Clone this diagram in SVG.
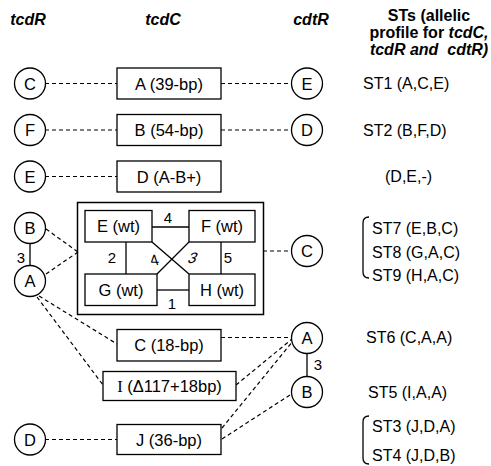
<svg xmlns="http://www.w3.org/2000/svg" width="491" height="466" viewBox="0 0 491 466">
<style>
.bx{fill:#fff;stroke:#000;stroke-width:1.3}
.ci{fill:#fff;stroke:#000;stroke-width:1.3}
.t{font-family:"Liberation Sans",Arial,sans-serif;font-size:16.5px;fill:#000;text-anchor:middle}
.st{font-family:"Liberation Sans",Arial,sans-serif;font-size:16px;fill:#000}
.h{font-family:"Liberation Sans",Arial,sans-serif;font-size:16px;font-weight:bold;fill:#000;text-anchor:middle}
.n{font-family:"Liberation Sans",Arial,sans-serif;font-size:15px;fill:#000;text-anchor:middle}
.d{stroke:#000;stroke-width:1.2;stroke-dasharray:4 3;fill:none}
.s{stroke:#000;stroke-width:1.3;fill:none}
</style>
<rect width="491" height="466" fill="#fff"/>
<g id="headers">
<text class="h" x="28" y="25" font-style="italic">tcdR</text>
<text class="h" x="163" y="25" font-style="italic">tcdC</text>
<text class="h" x="311" y="25" font-style="italic">cdtR</text>
<text class="h" x="429" y="21">STs (allelic</text>
<text class="h" x="429" y="38">profile for <tspan font-style="italic">tcdC,</tspan></text>
<text class="h" x="429" y="55" font-style="italic">tcdR and&#160; cdtR)</text>
</g>
<g id="connectors">
<line class="d" x1="45" y1="83.5" x2="117" y2="83.5"/>
<line class="d" x1="221" y1="83.5" x2="292" y2="83.5"/>
<line class="d" x1="45" y1="130" x2="117" y2="130"/>
<line class="d" x1="221" y1="130" x2="292" y2="130"/>
<line class="d" x1="45" y1="176.5" x2="117" y2="176.5"/>
<line class="d" x1="46" y1="229" x2="78" y2="252"/>
<line class="d" x1="46" y1="274" x2="78" y2="252"/>
<line class="d" x1="263" y1="251" x2="292" y2="251"/>
<line class="s" x1="30" y1="243" x2="30" y2="266"/>
<line class="d" x1="39" y1="296" x2="117" y2="344"/>
<line class="d" x1="37" y1="297" x2="103" y2="385"/>
<line class="d" x1="221" y1="337.5" x2="292" y2="337.5"/>
<line class="d" x1="236" y1="385" x2="292" y2="339"/>
<line class="d" x1="222" y1="428" x2="293" y2="341"/>
<line class="d" x1="222" y1="439" x2="293" y2="393"/>
<line class="s" x1="307" y1="353" x2="307" y2="377"/>
<line class="d" x1="45" y1="439.5" x2="117" y2="439.5"/>
<line class="s" x1="152" y1="227" x2="189" y2="227"/>
<line class="s" x1="126" y1="242" x2="126" y2="274"/>
<line class="s" x1="221" y1="242" x2="221" y2="274"/>
<line class="s" x1="157" y1="290" x2="189" y2="290"/>
<line class="s" x1="152" y1="242" x2="189" y2="274"/>
<line class="s" x1="189" y1="242" x2="157" y2="274"/>
</g>
<g id="edge-labels">
<text class="n" x="21" y="263">3</text>
<text class="n" x="168" y="223">4</text>
<text class="n" x="112" y="263">2</text>
<text class="n" x="228" y="263">5</text>
<text class="n" x="172" y="309">1</text>
<text class="n" transform="translate(156,265) skewX(18)">4</text>
<text class="n" transform="translate(191,263) skewX(-22)">3</text>
<text class="n" x="318" y="370">3</text>
</g>
<g id="tcdR-C"><circle class="ci" cx="30" cy="83.5" r="15.5"/><text class="t" x="30" y="89.5">C</text></g>
<g id="tcdR-F"><circle class="ci" cx="30" cy="130" r="15.5"/><text class="t" x="30" y="136">F</text></g>
<g id="tcdR-E"><circle class="ci" cx="30" cy="176.5" r="15.5"/><text class="t" x="30" y="182.5">E</text></g>
<g id="tcdR-B"><circle class="ci" cx="30" cy="228" r="15.5"/><text class="t" x="30" y="234">B</text></g>
<g id="tcdR-A"><circle class="ci" cx="30" cy="281" r="15.5"/><text class="t" x="30" y="287">A</text></g>
<g id="tcdR-D"><circle class="ci" cx="30" cy="439.5" r="15.5"/><text class="t" x="30" y="445.5">D</text></g>
<g id="tcdC-A"><rect class="bx" x="117" y="68" width="104" height="31"/><text class="t" x="169" y="89.5">A (39-bp)</text></g>
<g id="tcdC-B"><rect class="bx" x="117" y="114.5" width="104" height="31"/><text class="t" x="169" y="136">B (54-bp)</text></g>
<g id="tcdC-D"><rect class="bx" x="117" y="161" width="104" height="31"/><text class="t" x="169" y="182.5">D (A-B+)</text></g>
<g id="tcdC-wt-group">
<rect x="77.5" y="202.5" width="186" height="112" fill="none" stroke="#000" stroke-width="1.5"/>
<g id="tcdC-E"><rect class="bx" x="85" y="210.5" width="67" height="31.5"/><text class="t" x="118.5" y="232">E (wt)</text></g>
<g id="tcdC-F"><rect class="bx" x="189" y="210.5" width="66" height="31.5"/><text class="t" x="222" y="232">F (wt)</text></g>
<g id="tcdC-G"><rect class="bx" x="85" y="274" width="72" height="31.5"/><text class="t" x="121" y="295.5">G (wt)</text></g>
<g id="tcdC-H"><rect class="bx" x="189" y="274" width="66" height="31.5"/><text class="t" x="222" y="295.5">H (wt)</text></g>
</g>
<g id="cdtR-E"><circle class="ci" cx="307" cy="83.5" r="15.5"/><text class="t" x="307" y="89.5">E</text></g>
<g id="cdtR-D"><circle class="ci" cx="307" cy="130" r="15.5"/><text class="t" x="307" y="136">D</text></g>
<g id="cdtR-C"><circle class="ci" cx="307" cy="251" r="15.5"/><text class="t" x="307" y="257">C</text></g>
<g id="tcdC-C"><rect class="bx" x="117" y="329.5" width="104" height="31.5"/><text class="t" x="169" y="351">C (18-bp)</text></g>
<g id="tcdC-I"><rect class="bx" x="103" y="371.5" width="133" height="29"/><text class="t" x="169.5" y="392"><tspan font-family="'Liberation Serif',serif">I</tspan> (Δ117+18bp)</text></g>
<g id="tcdC-J"><rect class="bx" x="117" y="424.5" width="104" height="30"/><text class="t" x="169" y="445.5">J (36-bp)</text></g>
<g id="cdtR-A"><circle class="ci" cx="307" cy="338" r="15.5"/><text class="t" x="307" y="344">A</text></g>
<g id="cdtR-B"><circle class="ci" cx="307" cy="392" r="15.5"/><text class="t" x="307" y="398">B</text></g>
<g id="STs">
<text class="st" x="363" y="89">ST1 (A,C,E)</text>
<text class="st" x="363" y="136">ST2 (B,F,D)</text>
<text class="st" x="385" y="182">(D,E,-)</text>
<path class="s" d="M369 217 Q363 217 363 223 L363 272 Q363 278 369 278"/>
<text class="st" x="372" y="234">ST7 (E,B,C)</text>
<text class="st" x="372" y="258">ST8 (G,A,C)</text>
<text class="st" x="372" y="281">ST9 (H,A,C)</text>
<text class="st" x="366" y="343">ST6 (C,A,A)</text>
<text class="st" x="368" y="398">ST5 (I,A,A)</text>
<path class="s" d="M369 416 Q363 416 363 422 L363 458 Q363 464 369 464"/>
<text class="st" x="372" y="432">ST3 (J,D,A)</text>
<text class="st" x="372" y="461">ST4 (J,D,B)</text>
</g>
</svg>
